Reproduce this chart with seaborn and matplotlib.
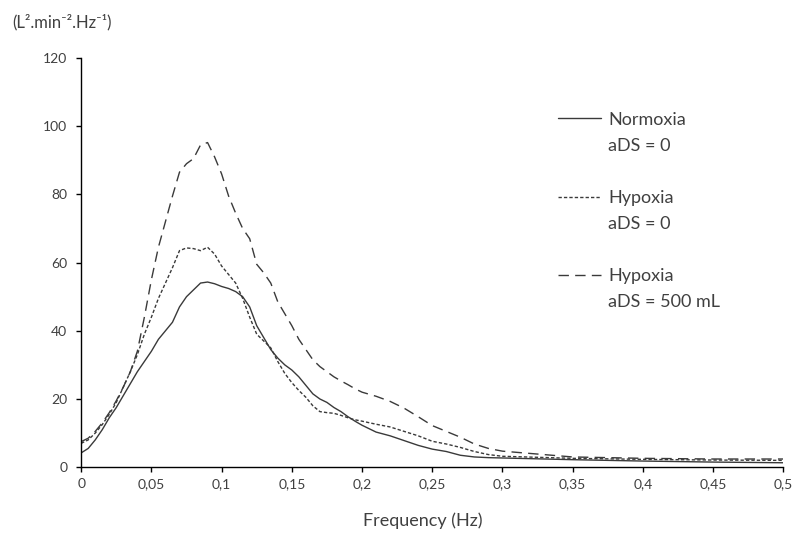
import pandas as pd
import matplotlib.pyplot as plt
import seaborn as sns
from matplotlib.lines import Line2D

# frequency grid (Hz) and PSD values
freq = [0, 0.005, 0.01, 0.015, 0.02, 0.025, 0.03, 0.035, 0.04, 0.045,
        0.05, 0.055, 0.06, 0.065, 0.07, 0.075, 0.08, 0.085, 0.09, 0.095,
        0.1, 0.105, 0.11, 0.115, 0.12, 0.125, 0.13, 0.135, 0.14, 0.145,
        0.15, 0.155, 0.16, 0.165, 0.17, 0.175, 0.18, 0.185, 0.19, 0.195,
        0.2, 0.21, 0.22, 0.23, 0.24, 0.25, 0.26, 0.27, 0.28, 0.29,
        0.3, 0.35, 0.4, 0.45, 0.5]

normoxia = [4.2, 5.5, 8, 11, 14.5, 17.5, 21, 24.5, 28, 31,
            34, 37.5, 40, 42.5, 47, 50, 52, 54, 54.3, 53.8,
            53, 52.4, 51.5, 50, 47, 41.5, 38, 34.5, 32, 30,
            28.5, 26.5, 24, 21.5, 20, 19, 17.5, 16.3, 14.8, 13.5,
            12.3, 10.3, 9.2, 7.8, 6.4, 5.3, 4.6, 3.5, 3.0, 2.8,
            2.7, 2.2, 1.8, 1.5, 1.3]

hypoxia_0 = [7, 8, 10, 12.5, 15.5, 19, 23.5, 28, 33, 39,
             44, 49.5, 54, 58.5, 63.5, 64.3, 64.1, 63.5, 64.5, 62.5,
             59, 56.5, 54, 49.5, 44, 39, 37, 35, 31, 27.5,
             24.8, 22.5, 20.5, 18, 16.3, 16, 15.8, 15.2, 14.5, 13.9,
             13.5, 12.6, 11.8, 10.5, 9.2, 7.6, 6.8, 5.8, 4.6, 3.7,
             3.2, 2.6, 2.3, 2.1, 2.0]

hypoxia_500 = [7.5, 8.5, 10.5, 13, 16, 19.5, 23.5, 28, 34, 44,
               55, 64.5, 72, 79.5, 86.5, 89, 90.5, 94.5, 95.2, 91,
               86, 79.5, 74.5, 70, 67, 59.5, 57, 54, 48.5, 45,
               41.5, 37.5, 34.5, 31.5, 29.5, 28, 26.5, 25.3, 24.2, 23,
               22, 20.8, 19.3, 17.3, 14.8, 12.2, 10.5, 8.8, 6.8, 5.5,
               4.7, 3.0, 2.6, 2.4, 2.4]

conditions = ["Normoxia\naDS = 0", "Hypoxia\naDS = 0", "Hypoxia\naDS = 500 mL"]
x_ticks = [0, 0.05, 0.1, 0.15, 0.2, 0.25, 0.3, 0.35, 0.4, 0.45, 0.5]
x_tick_labels = ["0", "0,05", "0,1", "0,15", "0,2", "0,25", "0,3", "0,35", "0,4", "0,45", "0,5"]
y_ticks = [0, 20, 40, 60, 80, 100, 120]

frames = []
for cond, vals in zip(conditions, [normoxia, hypoxia_0, hypoxia_500]):
    frames.append(pd.DataFrame({"freq": freq, "psd": vals, "condition": cond}))
df = pd.concat(frames, ignore_index=True)

sns.set_style("ticks")
plt.rcParams["font.family"] = ["Lato", "DejaVu Sans"]

line_col = "#3a3a3a"
text_col = "#404040"
lw = 1.0
dash_styles = {conditions[0]: "", conditions[1]: (2.4, 1.5), conditions[2]: (7.5, 4.5)}

fig = plt.figure(figsize=(7.96, 5.37), dpi=100)
ax = fig.add_axes([0.102, 0.130, 0.882, 0.762])

sns.lineplot(data=df, x="freq", y="psd", style="condition", dashes=dash_styles,
             color=line_col, linewidth=lw, legend=False, ax=ax)

ax.set_xlim(0, 0.5)
ax.set_ylim(0, 120)
ax.set_xticks(x_ticks)
ax.set_xticklabels(x_tick_labels)
ax.set_yticks(y_ticks)
ax.tick_params(axis="both", direction="out", length=3.6, width=1, color="black",
               labelsize=10, labelcolor=text_col)
ax.tick_params(axis="x", pad=4.5)
ax.tick_params(axis="y", pad=6.5)
sns.despine(ax=ax)
for side in ["left", "bottom"]:
    ax.spines[side].set_color("black")
    ax.spines[side].set_linewidth(1)

ax.set_xlabel("Frequency (Hz)", fontsize=13, color=text_col)
ax.xaxis.set_label_coords(0.486, -0.132)
ax.xaxis.label.set_va("center")
ax.set_ylabel("")
fig.text(0.016, 0.958, "(L\u00b2.min\u207b\u00b2.Hz\u207b\u00b9)", fontsize=12,
         color=text_col, ha="left", va="center")

# legend: line handle next to first line of each label, blank rows between
blank = Line2D([], [], color="none")
handles, labels = [], []
for i, cond in enumerate(conditions):
    first, second = cond.split("\n")
    handles.append(Line2D([], [], color=line_col, linewidth=lw,
                          linestyle=(0, dash_styles[cond]) if dash_styles[cond] else "-"))
    labels.append(first)
    handles.append(blank)
    labels.append(second)
    if i < len(conditions) - 1:
        handles.append(blank)
        labels.append(" ")

leg = ax.legend(handles, labels, loc="upper left", bbox_to_anchor=(0.679, 0.869),
                frameon=False, fontsize=13, handlelength=2.4, handletextpad=0.37,
                labelspacing=0.56, borderaxespad=0, borderpad=0)
for t in leg.get_texts():
    t.set_color(text_col)

plt.savefig("out.png", dpi=100)
